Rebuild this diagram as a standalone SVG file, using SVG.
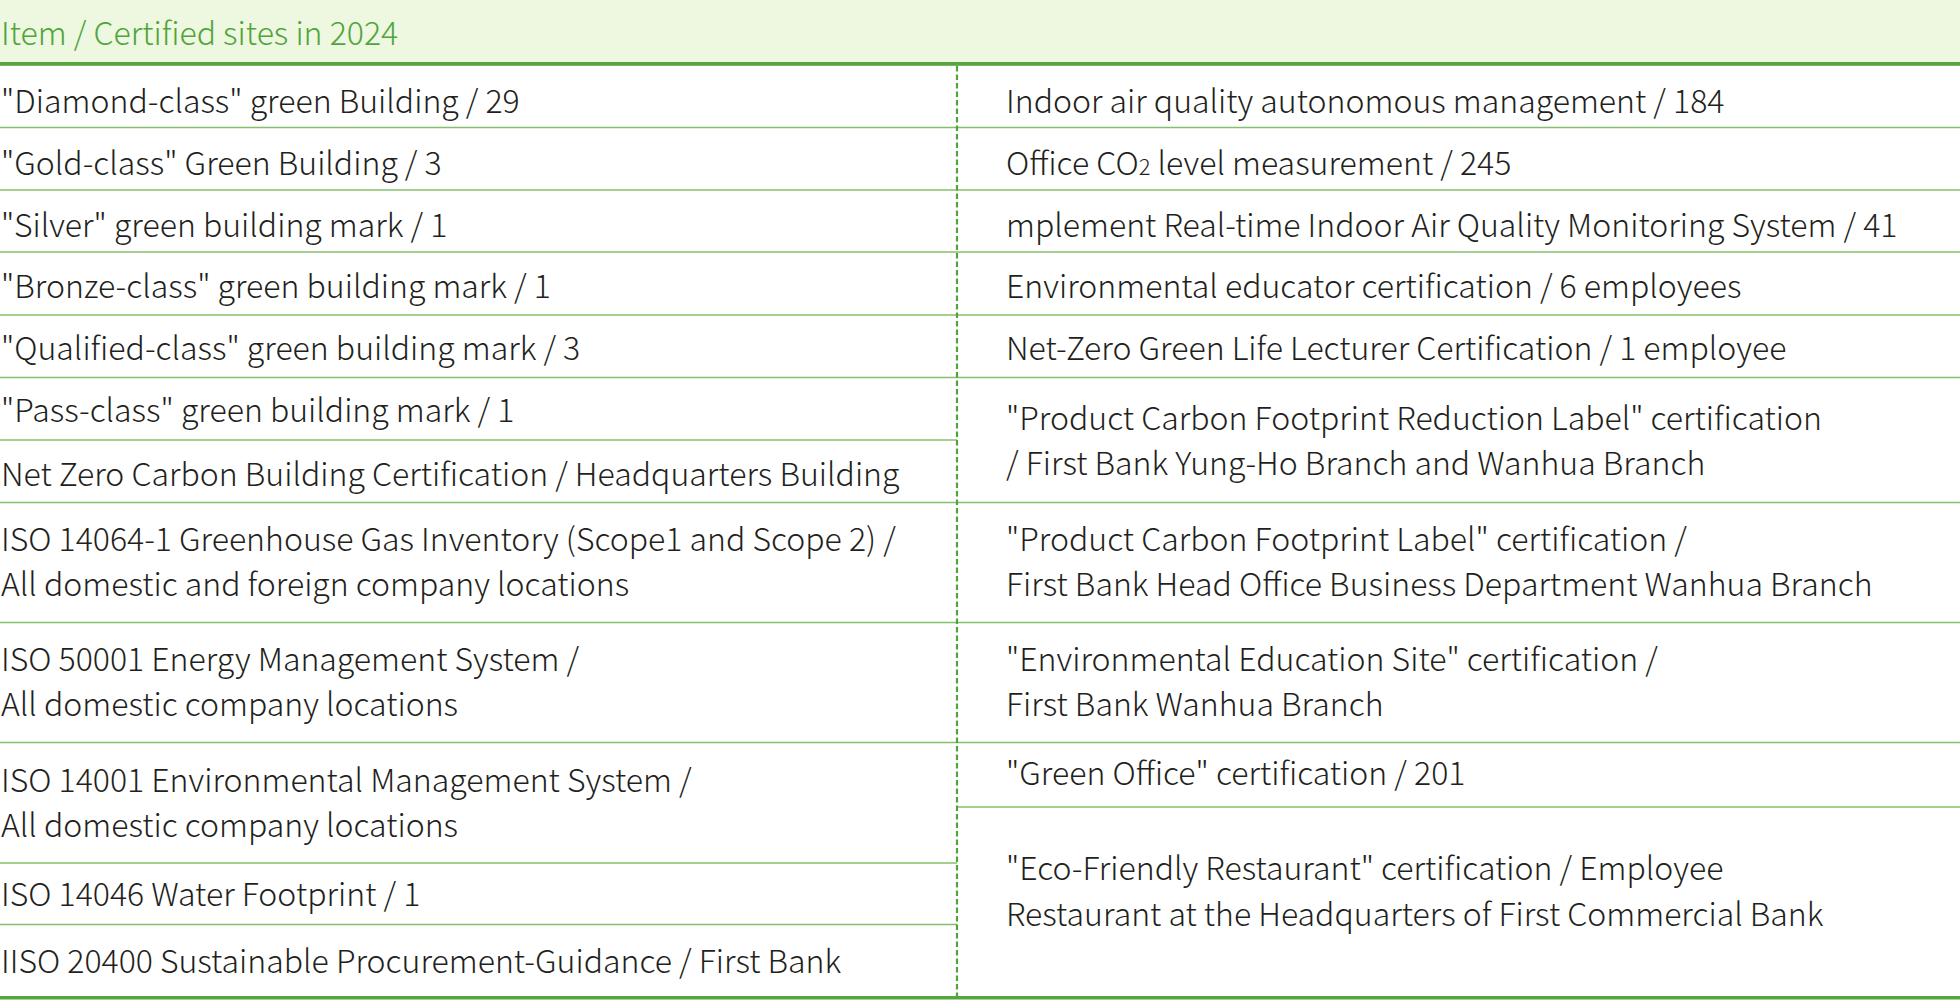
<svg xmlns="http://www.w3.org/2000/svg" width="1960" height="1000" viewBox="0 0 1960 1000">
<style>
text{font-family:"Noto Sans CJK TC","Noto Sans","Liberation Sans",sans-serif;font-size:32px;fill:#231f20;font-weight:300}
.hd{fill:#4fa53a}
.ln{stroke:#84c06a;stroke-width:1.6;fill:none}
.thick{fill:#55a63d}
.dash{stroke:#4fa53a;stroke-width:2.2;stroke-dasharray:5.5 3;fill:none}
</style>
<rect x="0" y="0" width="1960" height="1000" fill="#ffffff"/>
<g id="header">
<rect x="0" y="0" width="1960" height="62" fill="#eef7df"/>
<text class="hd" x="1" y="45">Item / Certified sites in 2024</text>
<rect class="thick" x="0" y="62" width="1960" height="3.8"/>
</g>
<g id="connectors">
<line class="ln" x1="0" y1="127.5" x2="1960" y2="127.5"/>
<line class="ln" x1="0" y1="190" x2="1960" y2="190"/>
<line class="ln" x1="0" y1="252" x2="1960" y2="252"/>
<line class="ln" x1="0" y1="315" x2="1960" y2="315"/>
<line class="ln" x1="0" y1="377.5" x2="1960" y2="377.5"/>
<line class="ln" x1="0" y1="440" x2="957" y2="440"/>
<line class="ln" x1="0" y1="502.5" x2="1960" y2="502.5"/>
<line class="ln" x1="0" y1="622.5" x2="1960" y2="622.5"/>
<line class="ln" x1="0" y1="742.5" x2="1960" y2="742.5"/>
<line class="ln" x1="957" y1="807" x2="1960" y2="807"/>
<line class="ln" x1="0" y1="863" x2="957" y2="863"/>
<line class="ln" x1="0" y1="924.5" x2="957" y2="924.5"/>
<line class="dash" x1="957" y1="66" x2="957" y2="996"/>
<rect class="thick" x="0" y="996" width="1960" height="3.5"/>
</g>
<g id="left-column">
<text x="1" y="112.7">"Diamond-class" green Building / 29</text>
<text x="1" y="175">"Gold-class" Green Building / 3</text>
<text x="1" y="236.7">"Silver" green building mark / 1</text>
<text x="1" y="298.3">"Bronze-class" green building mark / 1</text>
<text x="1" y="360">"Qualified-class" green building mark / 3</text>
<text x="1" y="421.7">"Pass-class" green building mark / 1</text>
<text x="1" y="486">Net Zero Carbon Building Certification / Headquarters Building</text>
<text x="1" y="550.7">ISO 14064-1 Greenhouse Gas Inventory (Scope1 and Scope 2) /</text>
<text x="1" y="596">All domestic and foreign company locations</text>
<text x="1" y="670.7">ISO 50001 Energy Management System /</text>
<text x="1" y="716">All domestic company locations</text>
<text x="1" y="791.7">ISO 14001 Environmental Management System /</text>
<text x="1" y="836.7">All domestic company locations</text>
<text x="1" y="905.7">ISO 14046 Water Footprint / 1</text>
<text x="1" y="973">IISO 20400 Sustainable Procurement-Guidance / First Bank</text>
</g>
<g id="right-column">
<text x="1006" y="112.7">Indoor air quality autonomous management / 184</text>
<text x="1006" y="175">Office CO<tspan font-size="22">2</tspan> level measurement / 245</text>
<text x="1006" y="236.7">mplement Real-time Indoor Air Quality Monitoring System / 41</text>
<text x="1006" y="298.3">Environmental educator certification / 6 employees</text>
<text x="1006" y="360">Net-Zero Green Life Lecturer Certification / 1 employee</text>
<text x="1006" y="430">"Product Carbon Footprint Reduction Label" certification</text>
<text x="1006" y="475">/ First Bank Yung-Ho Branch and Wanhua Branch</text>
<text x="1006" y="550.7">"Product Carbon Footprint Label" certification /</text>
<text x="1006" y="596">First Bank Head Office Business Department Wanhua Branch</text>
<text x="1006" y="670.7">"Environmental Education Site" certification /</text>
<text x="1006" y="716">First Bank Wanhua Branch</text>
<text x="1006" y="785">"Green Office" certification / 201</text>
<text x="1006" y="880">"Eco-Friendly Restaurant" certification / Employee</text>
<text x="1006" y="926">Restaurant at the Headquarters of First Commercial Bank</text>
</g>
</svg>
